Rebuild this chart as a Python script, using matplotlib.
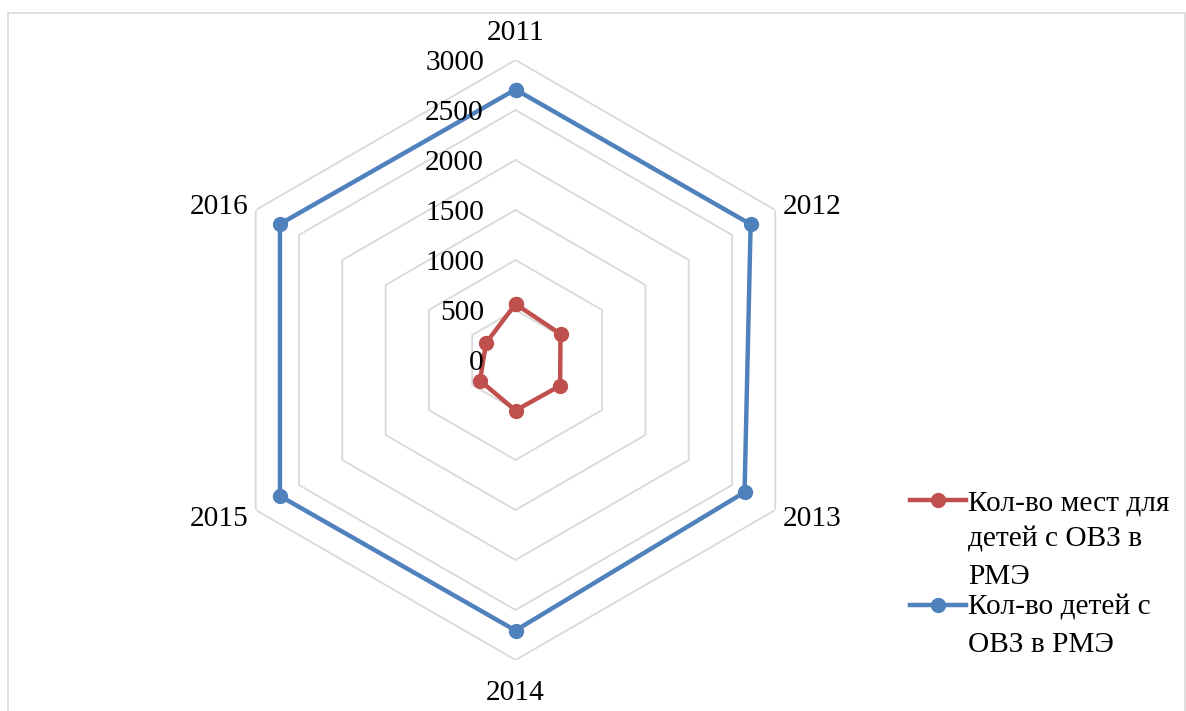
import numpy as np
import matplotlib
matplotlib.use('Agg')
import matplotlib.pyplot as plt
from matplotlib.lines import Line2D
from matplotlib.patches import Rectangle

years = ['2011', '2012', '2013', '2014', '2015', '2016']
places = [560, 520, 515, 505, 410, 340]
children = [2705, 2715, 2645, 2705, 2720, 2720]
rings = [0, 500, 1000, 1500, 2000, 2500, 3000]
labels = ['Кол-во мест для\nдетей с ОВЗ в\nРМЭ', 'Кол-во детей с\nОВЗ в РМЭ']
colors = ['#C0504D', '#4F81BD']

plt.rcParams['font.family'] = ['Liberation Serif', 'DejaVu Serif']
W, H = 1186, 711
fs = 21.2

fig = plt.figure(figsize=(W / 100, H / 100), dpi=100)
ax = fig.add_axes([215.5 / W, 51 / H, 600 / W, 600 / H], projection='polar')
ax.set_theta_zero_location('N')
ax.set_theta_direction(-1)

ang = np.linspace(0, 2 * np.pi, len(years), endpoint=False)
closed = np.append(ang, ang[0])

# hexagonal grid
for r in rings[1:]:
    ax.plot(closed, [r] * len(closed), color='#D9D9D9', lw=1.3, zorder=1)

for vals, c in zip([places, children], colors):
    ax.plot(closed, vals + vals[:1], color=c, lw=3.2, marker='o', ms=10,
            zorder=3, clip_on=False)

ax.set_ylim(0, 3000)
ax.grid(False)
ax.spines['polar'].set_visible(False)
ax.set_yticks([])
ax.set_xticks([])

# category labels around the outer ring
offs = [(0, 21.6, 'center'), (5.4, 4.3, 'left'), (5.4, -4.3, 'left'),
        (0, -21.6, 'center'), (-5.4, -4.3, 'right'), (-5.4, 4.3, 'right')]
for a, yr, (dx, dy, ha) in zip(ang, years, offs):
    ax.annotate(yr, xy=(a, rings[-1]), xytext=(dx, dy), textcoords='offset points',
                ha=ha, va='center_baseline', fontsize=fs, annotation_clip=False)

for r in rings:
    ax.annotate(str(r), xy=(0, r), xytext=(-22.7, 0), textcoords='offset points',
                ha='right', va='center_baseline', fontsize=fs, annotation_clip=False)

# chart area border
fig.add_artist(Rectangle((8 / W, -0.05), (1185 - 8) / W, 1 - 13 / H + 0.05,
                         transform=fig.transFigure, fill=False,
                         ec='#D9D9D9', lw=1.2))

# legend drawn by hand so the handle sits on the first text line
for lab, c, yc in zip(labels, colors, [500, 605]):
    y = 1 - yc / H
    fig.add_artist(Line2D([910 / W, 938 / W, 966 / W], [y, y, y],
                          transform=fig.transFigure, color=c, lw=3.2,
                          marker='o', ms=10, markevery=[1]))
    fig.text(968 / W, 1 - (yc - 10) / H, lab, fontsize=fs, va='top',
             ha='left', linespacing=1.55)

fig.savefig('out.png', dpi=100)
